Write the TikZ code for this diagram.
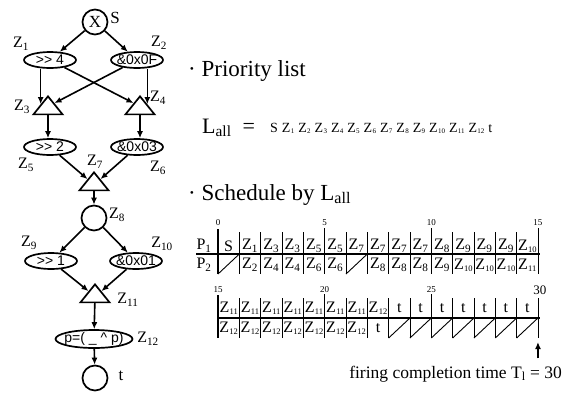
\documentclass[tikz,border=0pt]{standalone}
\usepackage{fontspec}
\setmainfont{Liberation Serif}
\setsansfont{Liberation Sans}
\usetikzlibrary{shapes.geometric,calc,arrows.meta}

\newcommand{\fs}[1]{\fontsize{#1}{#1}\selectfont}
\newcommand{\Z}[1]{Z\textsubscript{#1}}
\newcommand{\Zs}[1]{Z\kern.3pt\raisebox{-1.5pt}{\fs{7}#1}}
\newcommand{\Zt}[1]{Z\kern.3pt\raisebox{-2pt}{\fs{8.5}#1}}

\tikzset{
  op/.style={draw, ellipse, line width=1.7pt, inner xsep=-4pt, inner ysep=-2pt,
    minimum width=52pt, minimum height=16pt, font=\sffamily\fs{14}},
  tri/.style={draw, line width=1.7pt, isosceles triangle, isosceles triangle apex angle=78,
    isosceles triangle stretches, shape border rotate=90, inner sep=0pt,
    minimum width=29pt, minimum height=18pt},
  ring/.style={draw, circle, line width=1.7pt, minimum size=25pt, inner sep=0pt, font=\fs{17}},
  lbl/.style={inner sep=0pt, font=\fs{16}},
  arr/.style={->, line width=1.6pt},
  cell/.style={inner sep=0pt, font=\fs{16}},
  ticklbl/.style={inner sep=0pt, font=\fs{9}},
  gridln/.style={line width=.6pt},
  slashln/.style={line width=.9pt},
  rule/.style={line width=1.6pt},
}

\begin{document}
\begin{tikzpicture}[x=1pt, y=-1pt, >={Latex[length=7pt,width=6pt]}]
\useasboundingbox (0,0) rectangle (564,394);

% data-flow graph
\node[ring] (s) at (95,22) {X};
\node[op] (z1) at (50,60) {>{}> 4};
\node[op] (z2) at (137,60) {\&0x0F};
\node[tri, anchor=apex] (z3) at (48,95) {};
\node[tri, anchor=apex] (z4) at (140,95) {};
\node[op] (z5) at (50,147) {>{}> 2};
\node[op] (z6) at (137,147) {\&0x03};
\node[tri, anchor=apex] (z7) at (94,171) {};
\node[ring] (z8) at (94,218) {};
\node[op] (z9) at (51,261) {>{}> 1};
\node[op] (z10) at (136,261) {\&0x01};
\node[tri, anchor=apex] (z11) at (95,283) {};
\node[op, minimum width=77pt, minimum height=18pt] (z12) at (94,339) {p=( \_ \textasciicircum\ p)};
\node[ring] (t) at (95,378) {};

\node[lbl, font=\fs{17}] (s-lbl) at (115,18) {S};
\node[lbl] (z1-lbl) at (21,44) {\Z{1}};
\node[lbl] (z2-lbl) at (159,43) {\Z{2}};
\node[lbl] (z3-lbl) at (22,107) {\Z{3}};
\node[lbl] (z4-lbl) at (158,98) {\Z{4}};
\node[lbl] (z5-lbl) at (26,165) {\Z{5}};
\node[lbl] (z6-lbl) at (158,168) {\Z{6}};
\node[lbl] (z7-lbl) at (95,162) {\Z{7}};
\node[lbl] (z8-lbl) at (117,215) {\Z{8}};
\node[lbl] (z9-lbl) at (29,243) {\Z{9}};
\node[lbl] (z10-lbl) at (162,244) {\Z{10}};
\node[lbl] (z11-lbl) at (128,300) {\Z{11}};
\node[lbl] (z12-lbl) at (148,339) {\Z{12}};
\node[lbl, font=\fs{17}] (t-lbl) at (121,376) {t};

\coordinate (z3l) at ($(z3.apex)!.45!(z3.left corner)$);
\coordinate (z3r) at ($(z3.apex)!.4!(z3.right corner)$);
\coordinate (z4l) at ($(z4.apex)!.4!(z4.left corner)$);
\coordinate (z4r) at ($(z4.apex)!.45!(z4.right corner)$);
\coordinate (z7l) at ($(z7.apex)!.4!(z7.left corner)$);
\coordinate (z7r) at ($(z7.apex)!.4!(z7.right corner)$);
\coordinate (z11l) at ($(z11.apex)!.4!(z11.left corner)$);
\coordinate (z11r) at ($(z11.apex)!.4!(z11.right corner)$);

\draw[arr] (s) -- (z1);
\draw[arr] (s) -- (z2);
\draw[arr] (z1.south -| z3l) -- (z3l);
\draw[arr] (z1) -- (z4l);
\draw[arr] (z2) -- (z3r);
\draw[arr] (z2.south -| z4r) -- (z4r);
\draw[arr] (z3) -- (z3 |- z5.north);
\draw[arr] (z4) -- (z4 |- z6.north);
\draw[arr] (z5) -- (z7l);
\draw[arr] (z6) -- (z7r);
\draw[arr] (z7) -- (z8);
\draw[arr] (z8) -- (z9);
\draw[arr] (z8) -- (z10);
\draw[arr] (z9) -- (z11l);
\draw[arr] (z10) -- (z11r);
\draw[arr] (z11) -- (z12);
\draw[arr] (z12) -- (t);

% priority list
\node[anchor=base west, inner sep=0pt, font=\fs{23}] (prio) at (188,76) {· Priority list};
\node[anchor=base west, inner sep=0pt, font=\fs{22}] (lall) at (202,133) {L\textsubscript{all}\hspace{11pt}=};
\node[anchor=base west, inner sep=0pt, font=\fs{14}] (order) at (270,132)
  {S\kern4pt\Zs{1}\kern4pt\Zs{2}\kern4pt\Zs{3}\kern4pt\Zs{4}\kern4pt\Zs{5}\kern4pt\Zs{6}\kern4pt\Zs{7}\kern4pt\Zs{8}\kern4pt\Zs{9}\kern4pt\Zs{10}\kern4pt\Zs{11}\kern4pt\Zs{12}\kern4pt t};
\node[anchor=base west, inner sep=0pt, font=\fs{23}] (sched) at (188,200) {· Schedule by L\textsubscript{all}};

% schedule, time 0 to 15
\def\cw{21.33}
\node[cell] (p1) at (204,246) {P\textsubscript{1}};
\node[cell] (p2) at (204,265) {P\textsubscript{2}};
\draw[rule] (196,254) -- (540,254);
\foreach \i in {1,...,15} \draw[gridln] ({218+\i*\cw},232) -- ({218+\i*\cw},274);
\draw[rule] (218,229) -- (218,274);
\foreach \i in {5,10,15} \draw[gridln] ({218+\i*\cw},228) -- ++(0,4);
\foreach \i in {0,5,10,15} \node[ticklbl] (tk\i) at ({218+\i*\cw},223) {\i};
\foreach \lab [count=\i from 0] in {S,\Z{1},\Z{3},\Z{3},\Z{5},\Z{5},\Z{7},\Z{7},\Z{7},\Z{7},\Z{8},\Z{9},\Z{9},\Z{9},\Zt{10}}
  \node[cell] (a\i) at ({218+(\i+.5)*\cw},246) {\lab};
\foreach \lab [count=\i from 0] in {{},\Z{2},\Z{4},\Z{4},\Z{6},\Z{6},{},\Z{8},\Z{8},\Z{8},\Z{9},\Zt{10},\Zt{10},\Zt{10},\Zt{11}}
  {\ifx\lab\empty\else \node[cell] (b\i) at ({218+(\i+.5)*\cw},265) {\lab};\fi}
\foreach \i in {0,6} \draw[slashln] ({218+\i*\cw},274) -- ({218+(\i+1)*\cw},254);

% schedule, time 15 to 30
\draw[rule] (217,318) -- (540,318);
\foreach \i in {1,...,15} \draw[gridln] ({218+\i*\cw},298) -- ({218+\i*\cw},338);
\draw[rule] (218,295) -- (218,338);
\foreach \i in {5,10} \draw[gridln] ({218+\i*\cw},294) -- ++(0,4);
\foreach \i/\n in {0/15,5/20,10/25} \node[ticklbl] (tk\n) at ({218+\i*\cw},290) {\n};
\node[ticklbl, font=\fs{13}] (tk30) at ({218+15*\cw+2},290) {30};
\foreach \lab [count=\i from 0] in {\Zt{11},\Zt{11},\Zt{11},\Zt{11},\Zt{11},\Zt{11},\Zt{11},\Zt{12},t,t,t,t,t,t,t}
  \node[cell] (c\i) at ({218+(\i+.5)*\cw},308) {\lab};
\foreach \lab [count=\i from 0] in {\Zt{12},\Zt{12},\Zt{12},\Zt{12},\Zt{12},\Zt{12},\Zt{12},t,{},{},{},{},{},{},{}}
  {\ifx\lab\empty\else \node[cell] (d\i) at ({218+(\i+.5)*\cw},328) {\lab};\fi}
\foreach \i in {8,...,14} \draw[slashln] ({218+\i*\cw},338) -- ({218+(\i+1)*\cw},318);

% completion time
\node[anchor=base east, inner sep=0pt, font=\fs{17.5}] (fire) at (562,378) {firing completion time T\textsubscript{l} = 30};
\coordinate (tend) at ({218+15*\cw},342);
\draw[arr] ([yshift=7pt]tend |- fire.north) -- (tend);
\end{tikzpicture}
\end{document}
